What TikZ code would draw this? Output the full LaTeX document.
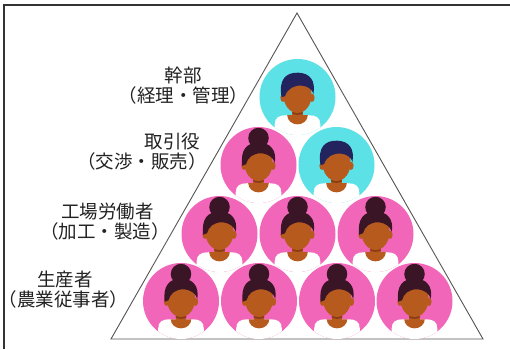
\documentclass[tikz,border=0pt]{standalone}
\usepackage{fontspec}
\newfontfamily\jpfont{Noto Sans CJK JP}

\definecolor{avCyan}{HTML}{5CE1E6}
\definecolor{avPink}{HTML}{F266BA}
\definecolor{avSkin}{HTML}{B65A1E}
\definecolor{avShade}{HTML}{8C3C14}
\definecolor{hairLady}{HTML}{3A1526}
\definecolor{hairMan}{HTML}{23245E}
\definecolor{frameInk}{HTML}{333333}
\definecolor{pyramidInk}{HTML}{555555}
\definecolor{labelInk}{HTML}{222222}

% shared body of an avatar: disc, shirt, neck, ears and face (unit = disc radius)
\newcommand\avatarbody[1]{%
  \fill[#1] (0,0) circle[radius=1];
  \begin{scope}
    \clip (0,0) circle[radius=1];
    \fill[white] (-0.6,-1.1) -- (-0.6,-0.72)
      .. controls (-0.6,-0.54) and (-0.48,-0.48) .. (-0.3,-0.48)
      -- (0.3,-0.48)
      .. controls (0.48,-0.48) and (0.6,-0.54) .. (0.6,-0.72)
      -- (0.6,-1.1) -- cycle;
  \end{scope}
  \fill[avSkin] (-0.14,-0.2) rectangle (0.14,-0.49);
  \fill[avSkin] (-0.27,-0.48) arc[start angle=180,end angle=360,x radius=0.27,y radius=0.24];
  \fill[avShade] (0,-0.42) ellipse[x radius=0.15,y radius=0.05];
  \fill[avSkin] (-0.38,-0.02) ellipse[x radius=0.07,y radius=0.11];
  \fill[avSkin] (0.38,-0.02) ellipse[x radius=0.07,y radius=0.11];
  \fill[avSkin] (0,0.05) ellipse[x radius=0.37,y radius=0.47];
}

\tikzset{
  lbl/.style={font=\jpfont\fontsize{18.5}{20}\selectfont, text=labelInk, inner sep=0pt},
  lady/.pic={
    \begin{scope}[x=38pt,y=38pt]
      \avatarbody{avPink}
      \fill[hairLady] (0,0.71) circle[radius=0.27];
      \fill[hairLady] (-0.43,-0.02)
        .. controls (-0.48,0.40) and (-0.31,0.59) .. (0,0.59)
        .. controls (0.31,0.59) and (0.48,0.40) .. (0.43,0.06)
        .. controls (0.38,0.2) and (0.26,0.3) .. (0.05,0.31)
        .. controls (-0.15,0.3) and (-0.28,0.2) .. (-0.33,0.02) -- cycle;
    \end{scope}
  },
  gent/.pic={
    \begin{scope}[x=38pt,y=38pt]
      \avatarbody{avCyan}
      \fill[hairMan] (-0.42,0.0)
        .. controls (-0.50,0.46) and (-0.31,0.65) .. (0.02,0.64)
        .. controls (0.33,0.63) and (0.48,0.43) .. (0.42,0.08)
        .. controls (0.38,0.2) and (0.29,0.28) .. (0.12,0.3)
        .. controls (-0.08,0.32) and (-0.27,0.22) .. (-0.33,0.02) -- cycle;
    \end{scope}
  },
}

\begin{document}
\begin{tikzpicture}[x=1pt,y=-1pt]
  \useasboundingbox (0,0) rectangle (510,349);
  \fill[white] (0,0) rectangle (510,349);

  % frame along the top and left side
  \draw[frameInk, line width=1.2pt] (4,349) -- (4,5) -- (510,5);

  % the pyramid
  \draw[pyramidInk, line width=0.9pt, line join=miter] (297,13) -- (483,339) -- (111,339) -- cycle;

  % avatars, top row first so lower rows overlap the ones above
  \pic at (297.5,97) {gent};
  \pic at (258.5,165) {lady};
  \pic at (336.5,165) {gent};
  \pic at (219.5,234) {lady};
  \pic at (297.5,234) {lady};
  \pic at (375.5,234) {lady};
  \pic at (181,301) {lady};
  \pic at (259,301) {lady};
  \pic at (337,301) {lady};
  \pic at (414.5,301) {lady};

  % level labels
  \node[lbl] (kanbu) at (183,75) {幹部};
  \node[lbl] (kanbuSub) at (183.5,95.5) {（経理・管理）};
  \node[lbl] (torihiki) at (172.5,141.5) {取引役};
  \node[lbl] (torihikiSub) at (142,161.5) {（交渉・販売）};
  \node[lbl] (koujou) at (107.5,211.5) {工場労働者};
  \node[lbl] (koujouSub) at (105,231) {（加工・製造）};
  \node[lbl] (seisan) at (65,279.5) {生産者};
  \node[lbl] (seisanSub) at (63.5,299) {（農業従事者）};
\end{tikzpicture}
\end{document}
